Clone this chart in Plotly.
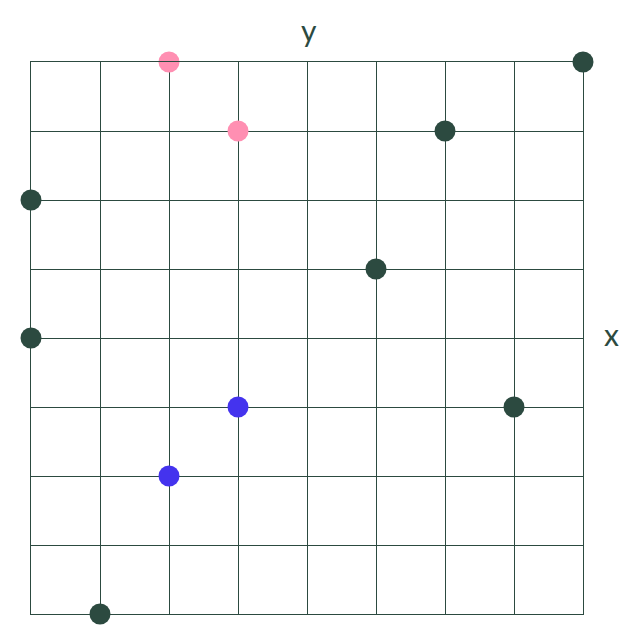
import plotly.graph_objects as go

dark_x = [8, 6, 0, 5, 0, 7, 1]
dark_y = [8, 7, 6, 5, 4, 3, 0]
pink_x = [2, 3]
pink_y = [8, 7]
blue_x = [3, 2]
blue_y = [3, 2]

DARK = "#2c4a40"
fig = go.Figure()
for xs, ys, c in [(dark_x, dark_y, DARK), (pink_x, pink_y, "#ff8fb2"), (blue_x, blue_y, "#4433ee")]:
    fig.add_trace(go.Scatter(x=xs, y=ys, mode="markers", cliponaxis=False,
                             marker=dict(size=21, color=c, line=dict(width=0)),
                             showlegend=False, hoverinfo="skip"))

axis_common = dict(range=[0, 8], dtick=1, showgrid=True, gridcolor=DARK, gridwidth=1,
                   zeroline=False, showline=True, linecolor=DARK, linewidth=1, mirror=True,
                   showticklabels=False, ticks="", fixedrange=True)
fig.update_xaxes(**axis_common)
fig.update_yaxes(**axis_common)

fig.add_annotation(text="y", x=0.5, y=1, xref="paper", yref="paper", xanchor="center", yanchor="middle",
                   xshift=2, yshift=32,
                   showarrow=False, font=dict(size=30, color=DARK, family="Lato"))
fig.add_annotation(text="x", x=1, y=0.5, xref="paper", yref="paper", xanchor="center", yanchor="middle",
                   xshift=28, yshift=4,
                   showarrow=False, font=dict(size=30, color=DARK, family="Lato"))

fig.update_layout(width=635, height=640, margin=dict(l=23, r=60, t=54, b=34),
                  plot_bgcolor="white", paper_bgcolor="white")
fig.write_html("out.html")
